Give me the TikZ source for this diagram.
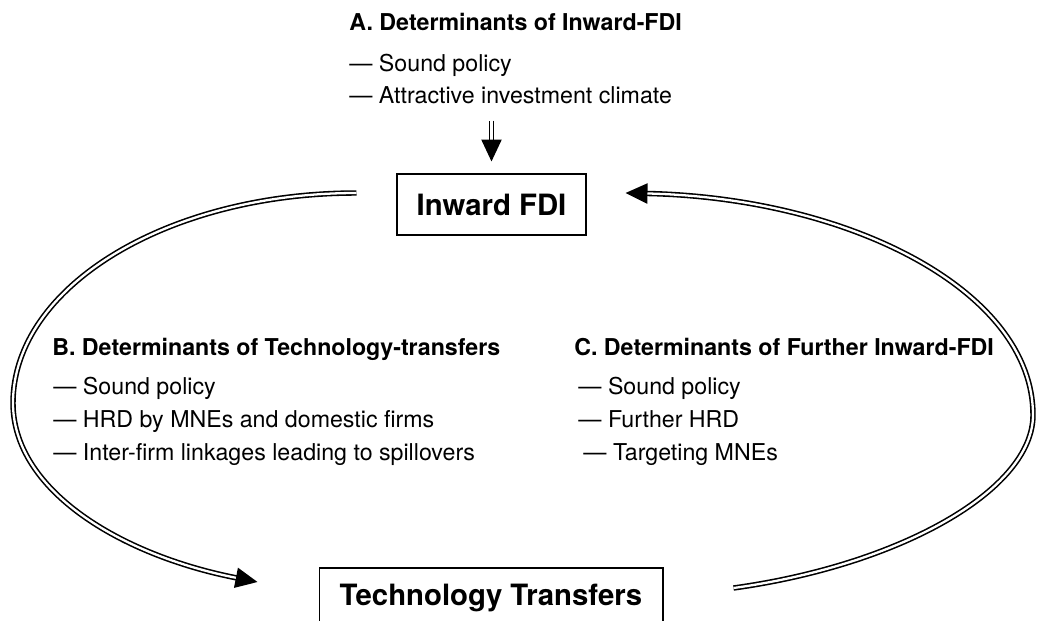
\documentclass[tikz,border=0pt]{standalone}
\usepackage{fontspec}
\setmainfont{TeX Gyre Heros}
\usetikzlibrary{arrows.meta}

\tikzset{
  heading/.style={anchor=base west, inner sep=0pt, font=\fontsize{13.2}{16}\selectfont\bfseries},
  item/.style={anchor=base west, inner sep=0pt, font=\fontsize{13.2}{16}\selectfont},
  box/.style={draw, line width=0.6pt, inner sep=0pt, minimum height=1.22cm, font=\fontsize{16.7}{20}\selectfont\bfseries},
  dblarrow/.style={double, double distance=1.3pt, line width=0.9pt, -{Triangle[length=12.5pt, width=11.5pt]}},
}

\begin{document}
\begin{tikzpicture}[x=0.02cm, y=0.02cm]
    \useasboundingbox (0,0) rectangle (1037,620);

    % Determinants of inward FDI
    \node[heading] (detA) at (349,589) {A. Determinants of Inward-FDI};
    \node[item] (a1) at (349,548.5) {\textemdash\ Sound policy};
    \node[item] (a2) at (349,516.5) {\textemdash\ Attractive investment climate};

    % The two stages of the cycle
    \node[box, minimum width=3.78cm] (inward) at (491.5,415.5) {Inward FDI};
    \node[box, minimum width=6.88cm] (tech) at (491,21.5) {Technology Transfers};

    % Determinants of technology transfers
    \node[heading] (detB) at (52,265) {B. Determinants of Technology-transfers};
    \foreach \txt [count=\i] in {Sound policy, HRD by MNEs and domestic firms, Inter-firm linkages leading to spillovers} {
        \node[item] (b\i) at (53,259-33*\i) {\textemdash\ \txt};
    }

    % Determinants of further inward FDI
    \node[heading] (detC) at (574,265) {C. Determinants of Further Inward-FDI};
    \node[item] (c1) at (578,226) {\textemdash\ Sound policy};
    \node[item] (c2) at (578,193) {\textemdash\ Further HRD};
    \node[item] (c3) at (583,160) {\textemdash\ Targeting MNEs};

    % Arrows
    \draw[dblarrow, shorten <=0.33cm, shorten >=0.24cm] (a2.south -| inward.north) -- (inward.north);

    \draw[dblarrow] ([shift={(-40,11.5)}]inward.west) .. controls (167,427) and (13,333) .. (13,217)
        .. controls (13,130) and (120,65) .. ([shift={(-61,16.5)}]tech.west);

    \draw[dblarrow] ([shift={(70,10.5)}]tech.east) .. controls (900,55) and (1033,130) .. (1033,205)
        .. controls (1033,328) and (852,422) .. ([shift={(39,11.5)}]inward.east);

\end{tikzpicture}
\end{document}
